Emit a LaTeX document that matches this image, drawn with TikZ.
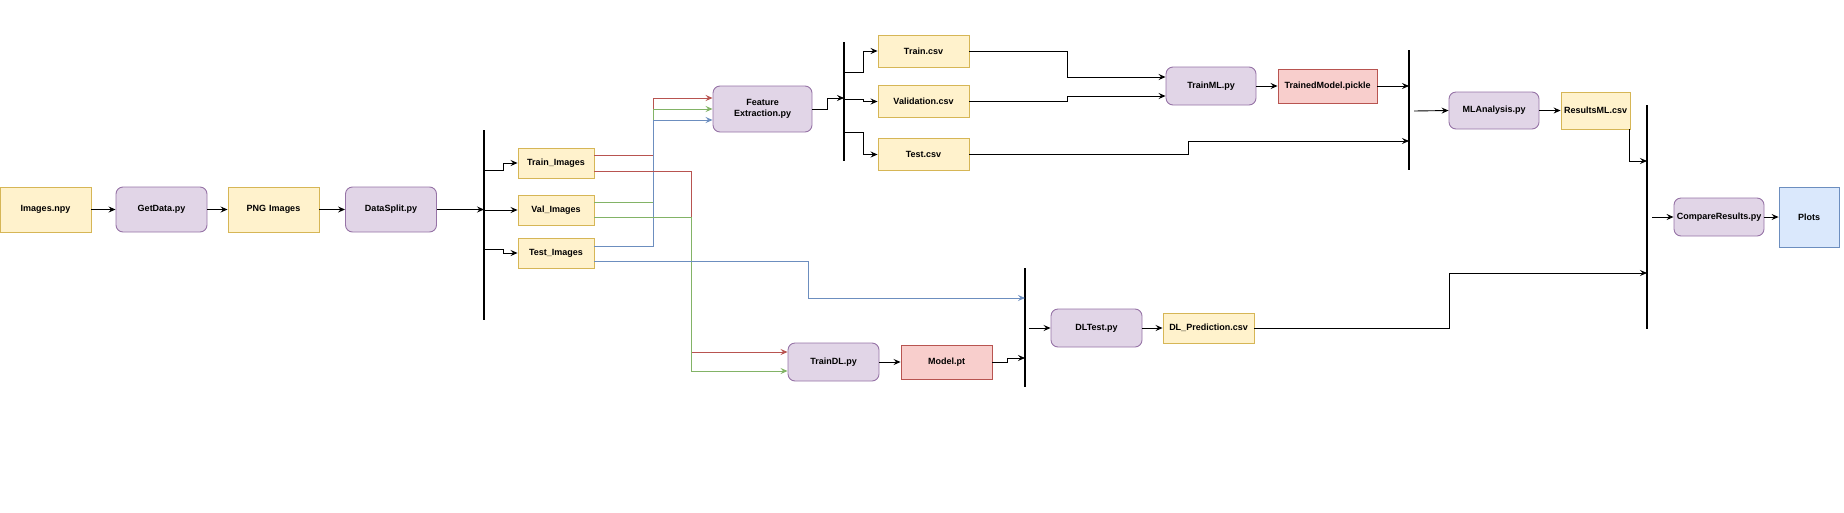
\documentclass[tikz,border=0pt]{standalone}
\usepackage{fontspec}
\setmainfont{Liberation Sans}
\usepackage{xcolor}
\usetikzlibrary{calc, positioning, arrows.meta}

\definecolor{yfill}{HTML}{FFF2CC}\definecolor{ydraw}{HTML}{D6B656}
\definecolor{pfill}{HTML}{E1D5E7}\definecolor{pdraw}{HTML}{9673A6}
\definecolor{rfill}{HTML}{F8CECC}\definecolor{rdraw}{HTML}{B85450}
\definecolor{bfill}{HTML}{DAE8FC}\definecolor{bdraw}{HTML}{6C8EBF}
\definecolor{gdraw}{HTML}{82B366}

\begin{document}
\begin{tikzpicture}[x=1pt, y=-1pt,
  box/.style = {draw, line width=0.9pt, inner sep=1pt, align=center, text width=#1,
    font=\fontsize{9}{11}\selectfont\bfseries, minimum height=32pt},
  box/.default = 89pt,
  file/.style = {box=#1, fill=yfill, draw=ydraw}, file/.default = 89pt,
  script/.style = {box=#1, fill=pfill, draw=pdraw, rounded corners=7pt, minimum height=38pt},
  script/.default = 89pt,
  model/.style = {box=#1, fill=rfill, draw=rdraw, minimum height=34pt}, model/.default = 89pt,
  bar/.style = {fill=black, inner sep=0pt, minimum width=2pt},
  arr/.style = {-{Stealth[length=7pt, width=6pt, inset=2.5pt]}, line width=0.9pt}]
\useasboundingbox (0,0) rectangle (1844,512);
% first row
\node[file, minimum height=45pt] (Npy) at (45.5,209.5) {Images.npy};
\node[script, minimum height=45pt] (GetData) at (161.5,209.5) {GetData.py};
\node[file, minimum height=45pt] (Png) at (273.5,209.5) {PNG Images};
\node[script, minimum height=45pt] (Split) at (391,209.5) {DataSplit.py};
\node[bar, minimum height=190pt] (SplitBar) at (484,225) {};
\node[file=74pt, minimum height=30pt] (TrainImg) at (556,163) {Train\_Images};
\node[file=74pt, minimum height=30pt] (ValImg) at (556,210) {Val\_Images};
\node[file=74pt, minimum height=30pt] (TestImg) at (556,253) {Test\_Images};
% ML branch
\node[script=97pt, minimum height=46pt] (Feat) at (762.5,109) {Feature\\Extraction.py};
\node[bar, minimum height=119pt] (FeatBar) at (844,101.5) {};
\node[file] (TrainCsv) at (923.5,51) {Train.csv};
\node[file] (ValCsv) at (923.5,101.5) {Validation.csv};
\node[file] (TestCsv) at (923.5,154.5) {Test.csv};
\node[script=88pt] (TrainML) at (1211,86) {TrainML.py};
\node[model=97pt] (Pickle) at (1327.5,86) {TrainedModel.pickle};
\node[bar, minimum height=120pt] (MLBar) at (1409,110) {};
\node[script=88pt, minimum height=37pt] (MLA) at (1494,110.5) {MLAnalysis.py};
\node[file=67pt, minimum height=37pt] (ResML) at (1595.5,110.5) {ResultsML.csv};
% DL branch
\node[script] (TrainDL) at (833.5,362) {TrainDL.py};
\node[model] (Model) at (946.5,362) {Model.pt};
\node[bar, minimum height=119pt] (DLBar) at (1025,327.5) {};
\node[script] (DLTest) at (1096.5,328) {DLTest.py};
\node[file, minimum height=30pt] (DLPred) at (1208.5,328) {DL\_Prediction.csv};
% comparison
\node[bar, minimum height=224pt] (CmpBar) at (1647,217) {};
\node[script=88pt] (Cmp) at (1719,217) {CompareResults.py};
\node[box=58pt, fill=bfill, draw=bdraw, minimum height=60pt] (Plots) at (1809,217) {Plots};

\coordinate (s1) at (484,170); \coordinate (s2) at (484,210); \coordinate (s3) at (484,249);
\coordinate (f0) at (844,98); \coordinate (f1) at (844,72);
\coordinate (f2) at (844,99); \coordinate (f3) at (844,132);
\coordinate (m0) at (1409,86); \coordinate (m1) at (1409,141); \coordinate (m2) at (1414,111);
\coordinate (d1) at (1025,298); \coordinate (d2) at (1025,358); \coordinate (d3) at (1029,328);
\coordinate (c1) at (1647,161); \coordinate (c2) at (1652,217); \coordinate (c3) at (1647,273);

\foreach \i/\j in {Npy/GetData, GetData/Png, Png/Split, TrainML/Pickle, MLA/ResML,
  Cmp/Plots, TrainDL/Model, DLTest/DLPred}{
\draw[arr] (\i) -- (\j);
}
\draw[arr] (Split.east) -- (Split.east -| SplitBar.center);
\draw[arr] (s1) -- ++(19,0) |- (TrainImg.west);
\draw[arr] (s2) -- (ValImg.west);
\draw[arr] (s3) -- ++(19,0) |- (TestImg.west);
% images to the two trainings
\draw[arr, rdraw] ([yshift=8pt]TrainImg.east) -- ++(59,0) |- ([yshift=11pt]Feat.west);
\draw[arr, gdraw] ([yshift=8pt]ValImg.east) -- ++(59,0) |- (Feat.west);
\draw[arr, bdraw] ([yshift=7pt]TestImg.east) -- ++(59,0) |- ([yshift=-11pt]Feat.west);
\draw[arr, rdraw] ([yshift=-8pt]TrainImg.east) -- ++(97,0) |- ([yshift=10pt]TrainDL.west);
\draw[arr, gdraw] ([yshift=-7pt]ValImg.east) -- ++(97,0) |- ([yshift=-9pt]TrainDL.west);
\draw[arr, bdraw] ([yshift=-8pt]TestImg.east) -- ++(214,0) |- (d1);
% ML
\draw[arr] (Feat.east) -- ++(15,0) |- (f0);
\draw[arr] (f1) -- ++(19,0) |- (TrainCsv.west);
\draw[arr] (f2) -- ++(19,0) |- (ValCsv.west);
\draw[arr] (f3) -- ++(19,0) |- (TestCsv.west);
\draw[arr] (TrainCsv.east) -- ++(98,0) |- ([yshift=9pt]TrainML.west);
\draw[arr] (ValCsv.east) -- ++(98,0) |- ([yshift=-10pt]TrainML.west);
\draw[arr] (TestCsv.east) -- ++(219,0) |- (m1);
\draw[arr] (Pickle.east) -- (m0);
\draw[arr] (m2) -- (MLA.west);
\draw[arr] ([xshift=-1pt]ResML.south east) |- (c1);
% DL
\draw[arr] (Model.east) -- ++(15,0) |- (d2);
\draw[arr] (d3) -- (DLTest.west);
\draw[arr] (DLPred.east) -- ++(195,0) |- (c3);
\draw[arr] (c2) -- (Cmp.west);
\end{tikzpicture}
\end{document}
